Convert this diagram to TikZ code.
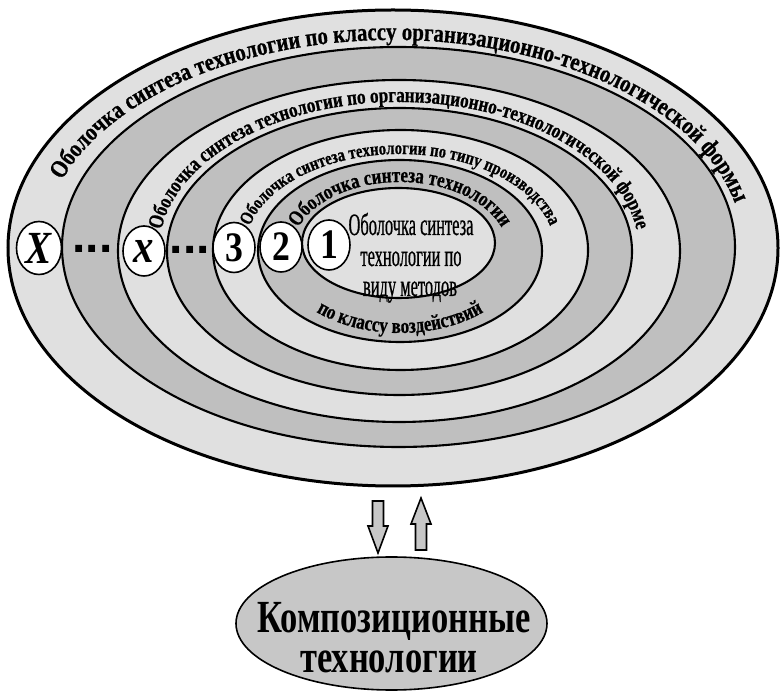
\documentclass[tikz,border=0pt]{standalone}
\usepackage{fontspec}
\setmainfont{Liberation Serif}
\newfontfamily\ringserif[FakeStretch=0.8,FakeBold=0.7]{Liberation Serif}
\newfontfamily\outerserif[FakeStretch=0.83,FakeBold=0.7]{Liberation Serif}
\newfontfamily\coreserif[FakeStretch=0.53,FakeBold=0.6]{Liberation Serif}
\newfontfamily\digitserif[FakeStretch=0.85]{Liberation Serif}
\newfontfamily\titleserif[FakeStretch=0.75]{Liberation Serif}
\newfontfamily\dotsans{Liberation Sans}
\usetikzlibrary{decorations.text,shapes.geometric}

\definecolor{bandlight}{gray}{0.88}
\definecolor{banddark}{gray}{0.75}
\definecolor{compfill}{gray}{0.78}

\newcommand\ringA{\outerserif\bfseries\fontsize{25}{25}\selectfont}
\newcommand\ringB{\ringserif\bfseries\fontsize{21.4}{21.4}\selectfont}
\newcommand\ringC{\ringserif\bfseries\fontsize{18.5}{18.5}\selectfont}
\newcommand\ringD{\ringserif\bfseries\fontsize{21.4}{21.4}\selectfont}

\begin{document}
\begin{tikzpicture}[x=1pt,y=1pt,
  shell/.style={ellipse, draw=black, line width=2.1pt, inner sep=0pt},
  lightshell/.style={shell, fill=bandlight},
  darkshell/.style={shell, fill=banddark},
  badge/.style={ellipse, draw=black, line width=1.6pt, fill=white,
    minimum width=42pt, minimum height=50pt, inner sep=0pt},
  badgetext/.style={font=\digitserif\bfseries\fontsize{42}{42}\selectfont},
  dotrow/.style={font=\dotsans\bfseries\fontsize{48}{48}\selectfont, inner sep=0pt},
  blockarrow/.style={draw=black, line width=1.6pt, fill=compfill, line join=miter},
  ringtext/.style={decorate, decoration={text along path}}
]
\useasboundingbox (0,0) rectangle (782,691);

% nested shells, outermost first
\node[lightshell, line width=3pt, minimum width=770pt, minimum height=476pt] (s1) at (393,443) {};
\node[darkshell,  minimum width=673pt, minimum height=400pt] (s2) at (398.5,444) {};
\node[lightshell, minimum width=562pt, minimum height=342pt] (s3) at (399,440) {};
\node[darkshell,  minimum width=465pt, minimum height=287pt] (s4) at (399.5,439.5) {};
\node[lightshell, minimum width=375pt, minimum height=240pt] (s5) at (400.5,441) {};
\node[darkshell,  minimum width=284pt, minimum height=182pt] (s6) at (400,440) {};
\node[lightshell, minimum width=193pt, minimum height=110pt] (s7) at (398.5,448) {};

% captions running along the shells
\path[ringtext, decoration={text align=left, text={|\ringA|Оболочка синтеза технологии по классу организационно-технологической формы}}]
  ([shift={(161:350 and 208)}]393,443) arc[start angle=161, end angle=-2, x radius=350, y radius=208];
\path[ringtext, decoration={text align=center, text={|\ringB|Оболочка синтеза технологии по организационно-технологической форме}}]
  ([shift={(178:240 and 149)}]399,440) arc[start angle=178, end angle=2, x radius=240, y radius=149];
\path[ringtext, decoration={text align=center, text={|\ringC|Оболочка синтеза технологии по типу производства}}]
  ([shift={(178:155 and 96)}]400,441) arc[start angle=178, end angle=2, x radius=155, y radius=96];
\path[ringtext, decoration={text align=center, text={|\ringD|Оболочка синтеза технологии}}]
  ([shift={(178:108 and 69)}]400,440) arc[start angle=178, end angle=2, x radius=108, y radius=69];
\path[ringtext, decoration={text align=center, text={|\ringD|по классу воздействий}}]
  ([shift={(200:125 and 82)}]400,440) arc[start angle=200, end angle=340, x radius=125, y radius=82];

% core caption
\node[font=\coreserif\fontsize{31}{31}\selectfont, anchor=base] (c1) at (411,456) {Оболочка синтеза};
\node[font=\coreserif\fontsize{31}{31}\selectfont, anchor=base] (c2) at (411,425) {технологии по};
\node[font=\coreserif\fontsize{31}{31}\selectfont, anchor=base] (c3) at (410,395) {виду методов};

% shell markers
\node[badge, minimum width=45pt, minimum height=53pt] (mX) at (39,443)
  {\digitserif\bfseries\itshape\fontsize{46}{46}\selectfont X};
\node[dotrow] (dots1) at (92.5,442.5) {...};
\node[badge] (mx) at (144,440) {\digitserif\bfseries\itshape\fontsize{48}{48}\selectfont x};
\node[dotrow] (dots2) at (190,441) {...};
\node[badge, badgetext] (m3) at (234,443.5) {3};
\node[badge, badgetext] (m2) at (281,444) {2};
\node[badge, badgetext] (m1) at (329,446) {1};

% composite technologies
\node[ellipse, draw=black, line width=1.6pt, fill=compfill, inner sep=0pt,
  minimum width=311pt, minimum height=133pt] (comp) at (391.5,67.5) {};
\node[font=\titleserif\bfseries\fontsize{46}{46}\selectfont, anchor=base] (t1) at (394,58) {Композиционные};
\node[font=\titleserif\bfseries\fontsize{46}{46}\selectfont, anchor=base] (t2) at (389,18) {технологии};

% exchange arrows between the shells and the composite block
\draw[blockarrow] (372.5,190) -- (383.5,190) -- (383.5,165) -- (388,165) -- (378,138)
  -- (368,165) -- (372.5,165) -- cycle;
\draw[blockarrow] (415.5,141) -- (426.5,141) -- (426.5,167) -- (431,167) -- (421,193)
  -- (411,167) -- (415.5,167) -- cycle;
\end{tikzpicture}
\end{document}
